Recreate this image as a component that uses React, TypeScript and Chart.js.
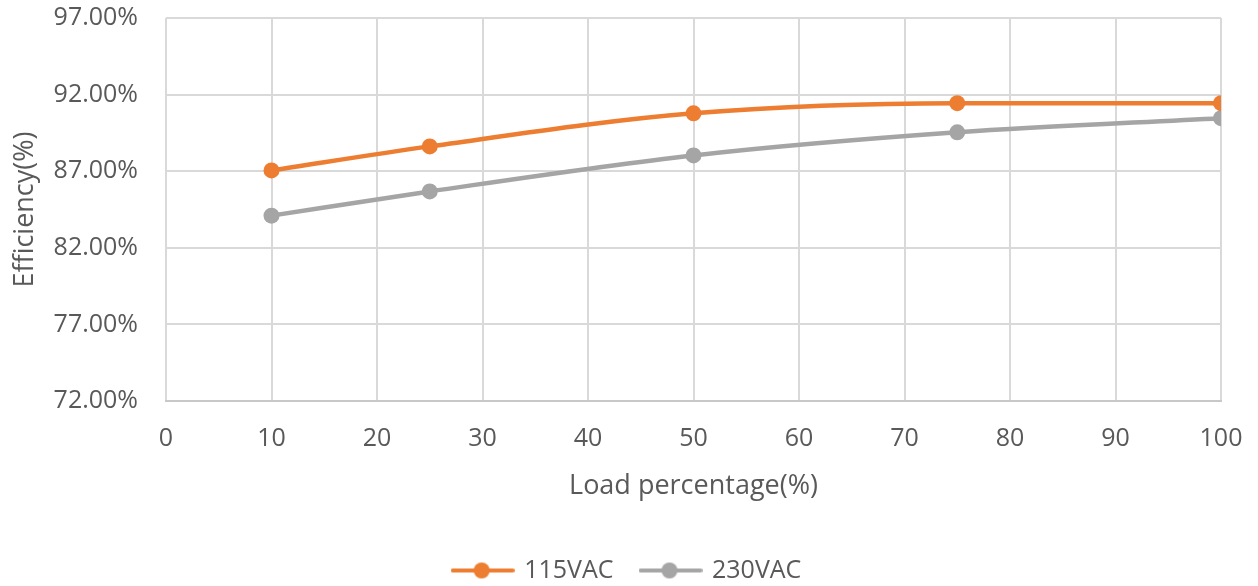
import React, { useEffect, useRef } from "react";
import { Chart, registerables } from "chart.js";

Chart.register(...registerables);

const loads = [10, 25, 50, 75, 100];
const eff115 = [87.05, 88.62, 90.78, 91.44, 91.44];
const eff230 = [84.1, 85.68, 88.03, 89.54, 90.46];
const seriesNames = ["115VAC", "230VAC"];
const seriesColors = ["#ED7D31", "#A5A5A5"];
const xTickMin = 0;
const xTickMax = 100;
const yTickMin = 72;
const yTickMax = 97;

function legendSymbol(color: string) {
  const c = document.createElement("canvas");
  c.width = 64;
  c.height = 20;
  const ctx = c.getContext("2d")!;
  ctx.strokeStyle = color;
  ctx.lineWidth = 4;
  ctx.lineCap = "round";
  ctx.beginPath();
  ctx.moveTo(2, 10);
  ctx.lineTo(62, 10);
  ctx.stroke();
  ctx.fillStyle = color;
  ctx.beginPath();
  ctx.arc(31, 10, 8, 0, Math.PI * 2);
  ctx.fill();
  return c;
}

const legendShift = {
  id: "legendShift",
  afterLayout(chart: any) {
    const lg = chart.legend;
    if (lg) {
      lg.top += 27;
      lg.bottom += 27;
      lg.left += 17;
      lg.right += 17;
    }
  },
};

export default function App() {
  const ref = useRef<HTMLCanvasElement>(null);
  useEffect(() => {
    document.body.style.margin = "0";
    Chart.defaults.font.family = "'Open Sans', sans-serif";
    const text = "#595959";
    const grid = "#D9D9D9";
    const mk = (vals: number[]) => loads.map((x, i) => ({ x, y: vals[i] }));
    const chart = new Chart(ref.current!, {
      type: "line",
      plugins: [legendShift],
      data: {
        datasets: [eff115, eff230].map((vals, i) => ({
          label: seriesNames[i],
          data: mk(vals),
          borderColor: seriesColors[i],
          backgroundColor: seriesColors[i],
          borderWidth: 4.5,
          pointRadius: 8,
          pointHoverRadius: 8,
          pointBorderWidth: 0,
          cubicInterpolationMode: "monotone" as const,
          fill: false,
        })),
      },
      options: {
        animation: false,
        responsive: false,
        maintainAspectRatio: false,
        layout: { padding: { top: 18, right: 37, left: 0, bottom: 20 } },
        plugins: {
          tooltip: { enabled: false },
          legend: {
            position: "bottom",
            labels: {
              color: text,
              font: { size: 25 },
              usePointStyle: true,
              pointStyleWidth: 58,
              padding: 28,
              generateLabels: (ch: any) =>
                ch.data.datasets.map((d: any, i: number) => ({
                  text: d.label,
                  fillStyle: seriesColors[i],
                  strokeStyle: seriesColors[i],
                  fontColor: text,
                  pointStyle: legendSymbol(seriesColors[i]),
                  datasetIndex: i,
                  hidden: false,
                  lineWidth: 0,
                })),
            },
          },
        },
        scales: {
          x: {
            type: "linear",
            min: xTickMin,
            max: xTickMax,
            ticks: { stepSize: 10, color: text, font: { size: 25 }, padding: 23 },
            grid: { color: grid, lineWidth: 2, drawTicks: false },
            border: { color: "#C8C8C8", width: 2 },
            title: {
              display: true,
              text: "Load percentage(%)",
              color: text,
              font: { size: 27 },
              padding: { top: 0, bottom: 0 },
            },
            afterFit: (s: any) => {
              s.height = 102;
              s.paddingLeft = 0;
              s.paddingRight = 0;
            },
          },
          y: {
            min: yTickMin,
            max: yTickMax,
            ticks: {
              stepSize: 5,
              color: text,
              font: { size: 25 },
              padding: 28,
              callback: (v: any) => Number(v).toFixed(2) + "%",
            },
            grid: { color: grid, lineWidth: 2, drawTicks: false },
            border: { display: false },
            title: {
              display: true,
              text: "Efficiency(%)",
              color: text,
              font: { size: 27 },
              padding: { top: 9, bottom: 0 },
            },
            afterFit: (s: any) => {
              s.width = 166;
              s.paddingTop = 0;
              s.paddingBottom = 0;
            },
          },
        },
      },
    });
    return () => chart.destroy();
  }, []);
  return <canvas ref={ref} width={1258} height={586} style={{ display: "block" }} />;
}
